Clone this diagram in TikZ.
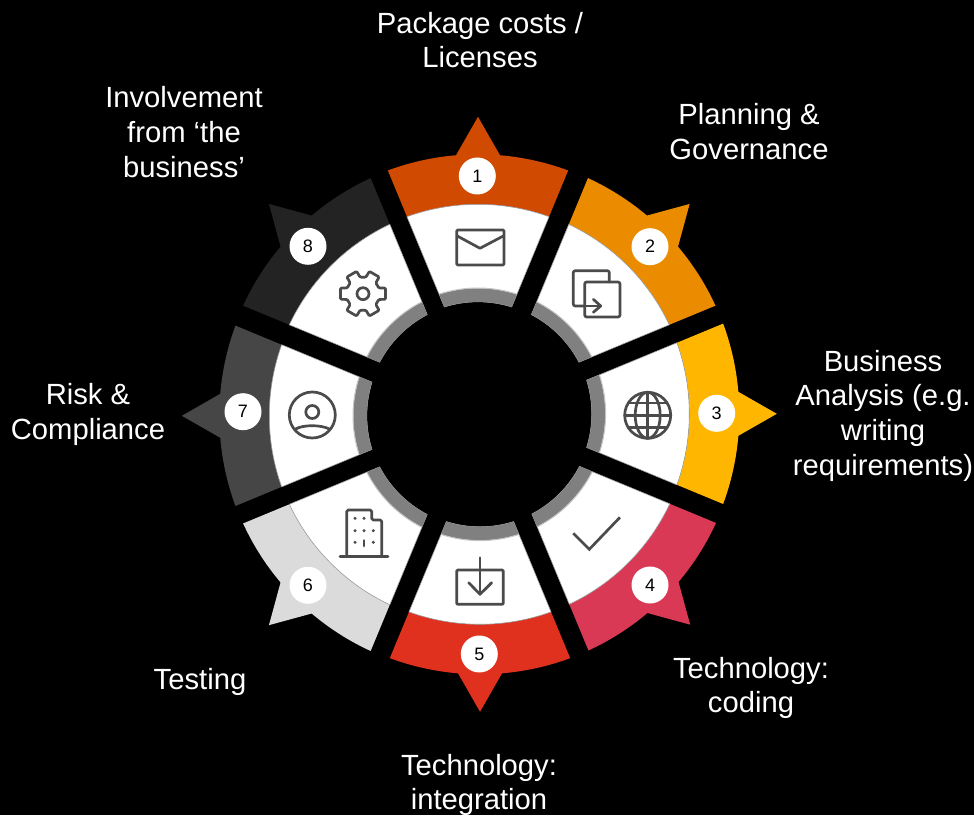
\documentclass[tikz,border=0pt]{standalone}
\usepackage{fontspec}
\setmainfont{Liberation Sans}
\definecolor{c1}{HTML}{D04A02}
\definecolor{c2}{HTML}{EB8C00}
\definecolor{c3}{HTML}{FFB600}
\definecolor{c4}{HTML}{D93954}
\definecolor{c5}{HTML}{E0301E}
\definecolor{c6}{HTML}{DBDBDB}
\definecolor{c7}{HTML}{464646}
\definecolor{c8}{HTML}{232323}
\definecolor{ic}{HTML}{4B4B4B}
\definecolor{band}{HTML}{808080}
\definecolor{bandedge}{HTML}{C4C4C4}
\tikzset{
  lab/.style={text=white,align=center,font=\fontsize{29.2}{34.7}\selectfont},
  num/.style={circle,fill=white,text=black,minimum size=37pt,inner sep=0pt,font=\fontsize{18}{20}\selectfont},
  icon/.style={draw=ic,line width=2.7pt,line join=round,line cap=round},
  dot/.style={fill=ic}
}
% #1 index, #2 colour, #3 x of centre, #4 y of centre (image px)
\newcommand{\wedgeseg}[4]{%
\begin{scope}[shift={(#3,815-#4)},rotate={-45*(#1-1)}]
  \fill[#2] (110.296:260) arc[start angle=110.296,end angle=94.85,radius=260]
     -- (90:297.5) -- (85.15:260)
     arc[start angle=85.15,end angle=69.704,radius=260]
     -- (70.229:210) arc[start angle=70.229,end angle=109.771,radius=210] -- cycle;
  \filldraw[fill=white,draw=gray!75,line width=.6pt]
     (109.771:210) arc[start angle=109.771,end angle=70.229,radius=210]
     -- (72.6:112.5) arc[start angle=72.6,end angle=107.4,radius=112.5] -- cycle;
  \fill[band] (107.948:126) arc[start angle=107.948,end angle=72.052,radius=126]
     -- (72.6:112.5) arc[start angle=72.6,end angle=107.4,radius=112.5] -- cycle;
  \draw[bandedge,line width=1pt] (107.948:126.3) arc[start angle=107.948,end angle=72.052,radius=126.3];
\end{scope}}
\begin{document}
\begin{tikzpicture}[x=1pt,y=1pt]
\useasboundingbox (0,0) rectangle (974,815);
\fill[black] (0,0) rectangle (974,815);
\wedgeseg{1}{c1}{478}{414.3}
\wedgeseg{2}{c2}{479.3}{414.3}
\wedgeseg{3}{c3}{479.3}{413.8}
\wedgeseg{4}{c4}{479.8}{414.3}
\wedgeseg{5}{c5}{480}{414.3}
\wedgeseg{6}{c6}{479.3}{414.8}
\wedgeseg{7}{c7}{479.3}{415.8}
\wedgeseg{8}{c8}{479.3}{414.3}
\begin{scope}[shift={(0,815)},yscale=-1]
% numbers
\node[num] (n1) at (477.3,176) {1};
\node[num] (n2) at (650,246.7) {2};
\node[num] (n3) at (716.7,413.3) {3};
\node[num] (n4) at (650,585) {4};
\node[num] (n5) at (479.3,654) {5};
\node[num] (n6) at (308,585.3) {6};
\node[num] (n7) at (243,411.7) {7};
\node[num] (n8) at (308,246.3) {8};
% labels
\node[lab] (l1) at (480,40) {Package costs /\\Licenses};
\node[lab] (l2) at (749,131.5) {Planning \&\\Governance};
\node[lab] (l3) at (883,415.5) {Business\\Analysis (e.g.\\writing\\requirements)};
\node[lab] (l4) at (751,688) {Technology:\\coding};
\node[lab] (l5) at (479,785) {Technology:\\integration};
\node[lab] (l6) at (200,682) {Testing};
\node[lab] (l7) at (88,414.5) {Risk \&\\Compliance};
\node[lab] (l8) at (184,132) {Involvement\\from ‘the\\business’};
% envelope
\draw[icon,rounded corners=1pt] (456.7,230) rectangle (504,265);
\draw[icon] (457.3,236) -- (480,248.3) -- (503.3,236);
% copy
\draw[icon,rounded corners=2pt] (584.7,306) -- (573.3,306) -- (573.3,270.7) -- (609.3,270.7) -- (609.3,282);
\draw[icon,rounded corners=2pt] (584.7,282) rectangle (620,317);
\draw[icon] (584.7,306) -- (600.7,306);
\draw[icon] (593.3,299.3) -- (600.7,306) -- (593.3,312.3);
% globe
\draw[icon] (647.7,415.3) circle[radius=23];
\draw[icon] (647.7,415.3) ellipse[x radius=12.5,y radius=23];
\draw[icon] (647.7,392.3) -- (647.7,438.3);
\draw[icon] (624.7,415.3) -- (670.7,415.3);
\draw[icon] (628.3,403) -- (667.1,403);
\draw[icon] (628.3,427.6) -- (667.1,427.6);
% check
\draw[icon,line cap=butt,line join=miter] (573.3,533.3) -- (589.3,549.3) -- (620,517.3);
% download
\draw[icon,rounded corners=1pt] (456.7,570) rectangle (503.3,604.3);
\draw[icon] (480,557.7) -- (480,594.3);
\draw[icon] (468.7,582.7) -- (480,594.3) -- (491.7,582.7);
% building
\draw[icon] (340,556.7) -- (388,556.7);
\draw[icon,rounded corners=1.5pt] (346.7,556.7) -- (346.7,510) -- (371.7,510) -- (371.7,520) -- (381.7,520) -- (381.7,556.7);
\foreach \p in {(355,518.3),(364,518.3),(355,530.7),(364,530.7),(373.3,530.7),(355,542.3),(373.3,542.3)}
  \fill[dot] \p circle[radius=1.7];
\draw[icon] (364,540.5) -- (364,546);
% person
\draw[icon] (312.3,415) circle[radius=23];
\draw[icon] (312.3,412) circle[radius=6.5];
\draw[icon] (295,429.3) .. controls (303,424.5) and (321,424.5) .. (330,429.3);
% gear
\begin{scope}[shift={(363,293.7)}]
\draw[icon,rounded corners=1pt]
  (-20:16.8) -- (-14:23.2) -- (14:23.2) -- (20:16.8) --
  (40:16.8) -- (46:23.2) -- (74:23.2) -- (80:16.8) --
  (100:16.8) -- (106:23.2) -- (134:23.2) -- (140:16.8) --
  (160:16.8) -- (166:23.2) -- (194:23.2) -- (200:16.8) --
  (220:16.8) -- (226:23.2) -- (254:23.2) -- (260:16.8) --
  (280:16.8) -- (286:23.2) -- (314:23.2) -- (320:16.8) -- cycle;
\draw[icon] (0,0) circle[radius=6];
\end{scope}
\end{scope}
\end{tikzpicture}
\end{document}
